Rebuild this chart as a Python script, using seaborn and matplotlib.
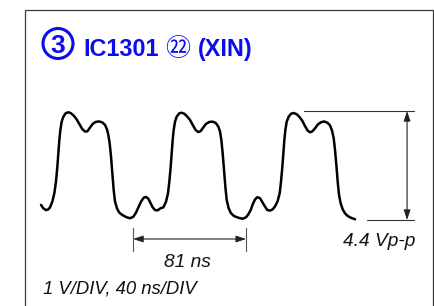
import matplotlib
matplotlib.use('Agg')
import matplotlib.pyplot as plt
from matplotlib.patches import Ellipse, Rectangle
import seaborn as sns
import pandas as pd

# traced waveform (time in ns, level in V)
t_ns = [0, 1.67, 3.58, 5.26, 6.45, 8.12, 9.56, 10.75, 11.71, 12.43, 13.14, 13.86, 14.82,
        16.01, 17.68, 19.59, 21.51, 23.66, 25.57, 27.48, 29.63, 31.54, 33.21, 35.13,
        37.04, 39.19, 41.58, 43.97, 45.88, 47.31, 48.27, 49.22, 50.18, 51.13, 52.09,
        53.05, 54.48, 55.91, 58.30, 61.41, 63.80, 66.19, 68.10, 69.77, 71.68, 73.60,
        75.27, 76.94, 78.61, 80.05, 81.72, 83.63, 85.54,
        87.69, 89.61, 91.04, 92.0, 92.95, 93.67, 94.39, 95.10, 96.06, 97.25, 99.16,
        100.84, 102.75, 104.90, 106.81, 108.72, 110.87, 112.78, 114.46, 116.37, 118.28,
        120.67, 123.06, 125.21, 127.12, 128.32, 129.27, 130.23, 131.18, 132.14, 133.10,
        134.53, 136.20, 138.35, 141.46, 144.57, 146.95, 148.63, 150.30, 151.73, 153.41,
        155.08, 156.99, 158.90, 160.57, 162.25, 164.16, 166.07, 167.98, 169.65,
        171.09, 172.04, 173.0, 173.71, 174.43, 175.15, 176.11, 177.54, 179.21, 181.13,
        183.28, 185.43, 187.34, 189.25, 191.16, 192.83, 194.50, 196.42, 198.33, 200.48,
        202.87, 205.26, 207.17, 208.60, 209.80, 210.75, 211.71, 212.66, 213.62, 214.82,
        216.25, 217.92, 219.83, 222.22, 225.09]
v_volts = [0.61, 0.47, 0.40, 0.43, 0.51, 0.74, 1.08, 1.55, 2.15, 2.69, 3.23, 3.63, 3.97,
           4.17, 4.31, 4.35, 4.31, 4.20, 4.06, 3.88, 3.67, 3.57, 3.58, 3.73,
           3.88, 3.96, 3.98, 3.94, 3.84, 3.66, 3.43, 3.10, 2.56, 1.88, 1.21,
           0.74, 0.47, 0.31, 0.20, 0.11, 0.07, 0.13, 0.30, 0.51, 0.74, 0.90,
           0.93, 0.86, 0.67, 0.51, 0.40, 0.39, 0.47,
           0.51, 0.74, 1.08, 1.55, 2.15, 2.69, 3.23, 3.63, 3.97, 4.17, 4.31,
           4.33, 4.29, 4.17, 4.04, 3.84, 3.63, 3.55, 3.59, 3.74, 3.88,
           3.96, 3.97, 3.92, 3.77, 3.57, 3.23, 2.69, 2.02, 1.35, 0.81,
           0.47, 0.27, 0.16, 0.09, 0.05, 0.11, 0.23, 0.40, 0.63, 0.83,
           0.92, 0.88, 0.70, 0.54, 0.40, 0.38, 0.43, 0.57, 0.77,
           1.08, 1.55, 2.15, 2.69, 3.23, 3.63, 3.97, 4.17, 4.29, 4.32,
           4.27, 4.15, 4.00, 3.79, 3.61, 3.54, 3.58, 3.70, 3.85, 3.94,
           3.98, 3.93, 3.82, 3.61, 3.30, 2.83, 2.22, 1.55, 1.01, 0.67,
           0.43, 0.27, 0.16, 0.09, 0.03]

period_ns = 81
period_start_ns = 66
vpp = 4.4
vpp_marker_ns = 262.4

step_no = '3'
title_ic = 'IC1301'
title_pin = '\u3252'
title_sig = '(XIN)'
vpp_label = '4.4 Vp-p'
period_label = '81 ns'
scale_label = '1 V/DIV, 40 ns/DIV'

df = pd.DataFrame({'t': t_ns, 'v': v_volts})

sns.set_style('white')
plt.rcParams['font.family'] = ['Liberation Sans', 'Noto Sans CJK JP', 'DejaVu Sans']

fig = plt.figure(figsize=(4.34, 3.06), dpi=100)
ax = fig.add_axes([0, 0, 1, 1])
ax.set_xlim(-29.39, 281.7)
ax.set_ylim(-3.472, 8.882)
ax.axis('off')

sns.lineplot(data=df, x='t', y='v', sort=False, color='black', lw=1.8, ax=ax,
             solid_joinstyle='round', solid_capstyle='round')

# frame
fig.patches.append(Rectangle((25 / 434, -0.1), 408 / 434, 1.1 - 10 / 306,
                             transform=fig.transFigure, fill=False,
                             ec='#3a3a3a', lw=0.9))

# peak-to-peak marker
ax.plot([188.5, 267.4], [vpp, vpp], color='#333333', lw=0.8)
ax.plot([233.7, 267.4], [0, 0], color='#333333', lw=0.8)
arrow = dict(arrowstyle='<|-|>,head_length=0.6,head_width=0.2', color='#222222',
             lw=0.8, shrinkA=0, shrinkB=0, mutation_scale=10)
ax.annotate('', xy=(vpp_marker_ns, vpp), xytext=(vpp_marker_ns, 0), arrowprops=arrow)
ax.text(216.5, -1.05, vpp_label, fontsize=13.8, style='italic', va='baseline', color='#111111')

# period marker
y_arr = -0.767
for tx in (period_start_ns, period_start_ns + period_ns):
    ax.plot([tx, tx], [-0.32, -1.25], color='#555555', lw=0.8)
ax.annotate('', xy=(period_start_ns, y_arr), xytext=(period_start_ns + period_ns, y_arr),
            arrowprops=arrow)
ax.text(period_start_ns + period_ns / 2 - 1.5, -1.885, period_label, fontsize=13.8,
        style='italic', ha='center', va='baseline', color='#111111')

ax.text(43.3 / 434, 1 - 293.3 / 306, scale_label, transform=fig.transFigure,
        fontsize=13.3, style='italic', va='baseline', color='#111111')

# title
blue = '#0c0cf0'
fig.patches.append(Ellipse((58 / 434, 1 - 43.5 / 306), 30 / 434, 30 / 306,
                           transform=fig.transFigure, fill=False, ec=blue, lw=2.2))
fig.text(58 / 434, 1 - 53.3 / 306, step_no, fontsize=19, fontweight='bold',
         color=blue, ha='center', va='baseline')
fig.text(83 / 434, 1 - 56 / 306, title_ic, fontsize=16.8, fontweight='bold',
         color=blue, va='baseline')
fig.text(177.5 / 434, 1 - 48.5 / 306, title_pin, fontsize=18, color=blue,
         family=['Noto Sans CJK JP', 'DejaVu Sans'], ha='center', va='center')
fig.text(198 / 434, 1 - 56 / 306, title_sig, fontsize=16.8, fontweight='bold',
         color=blue, va='baseline')

fig.savefig('out.png', dpi=100)
